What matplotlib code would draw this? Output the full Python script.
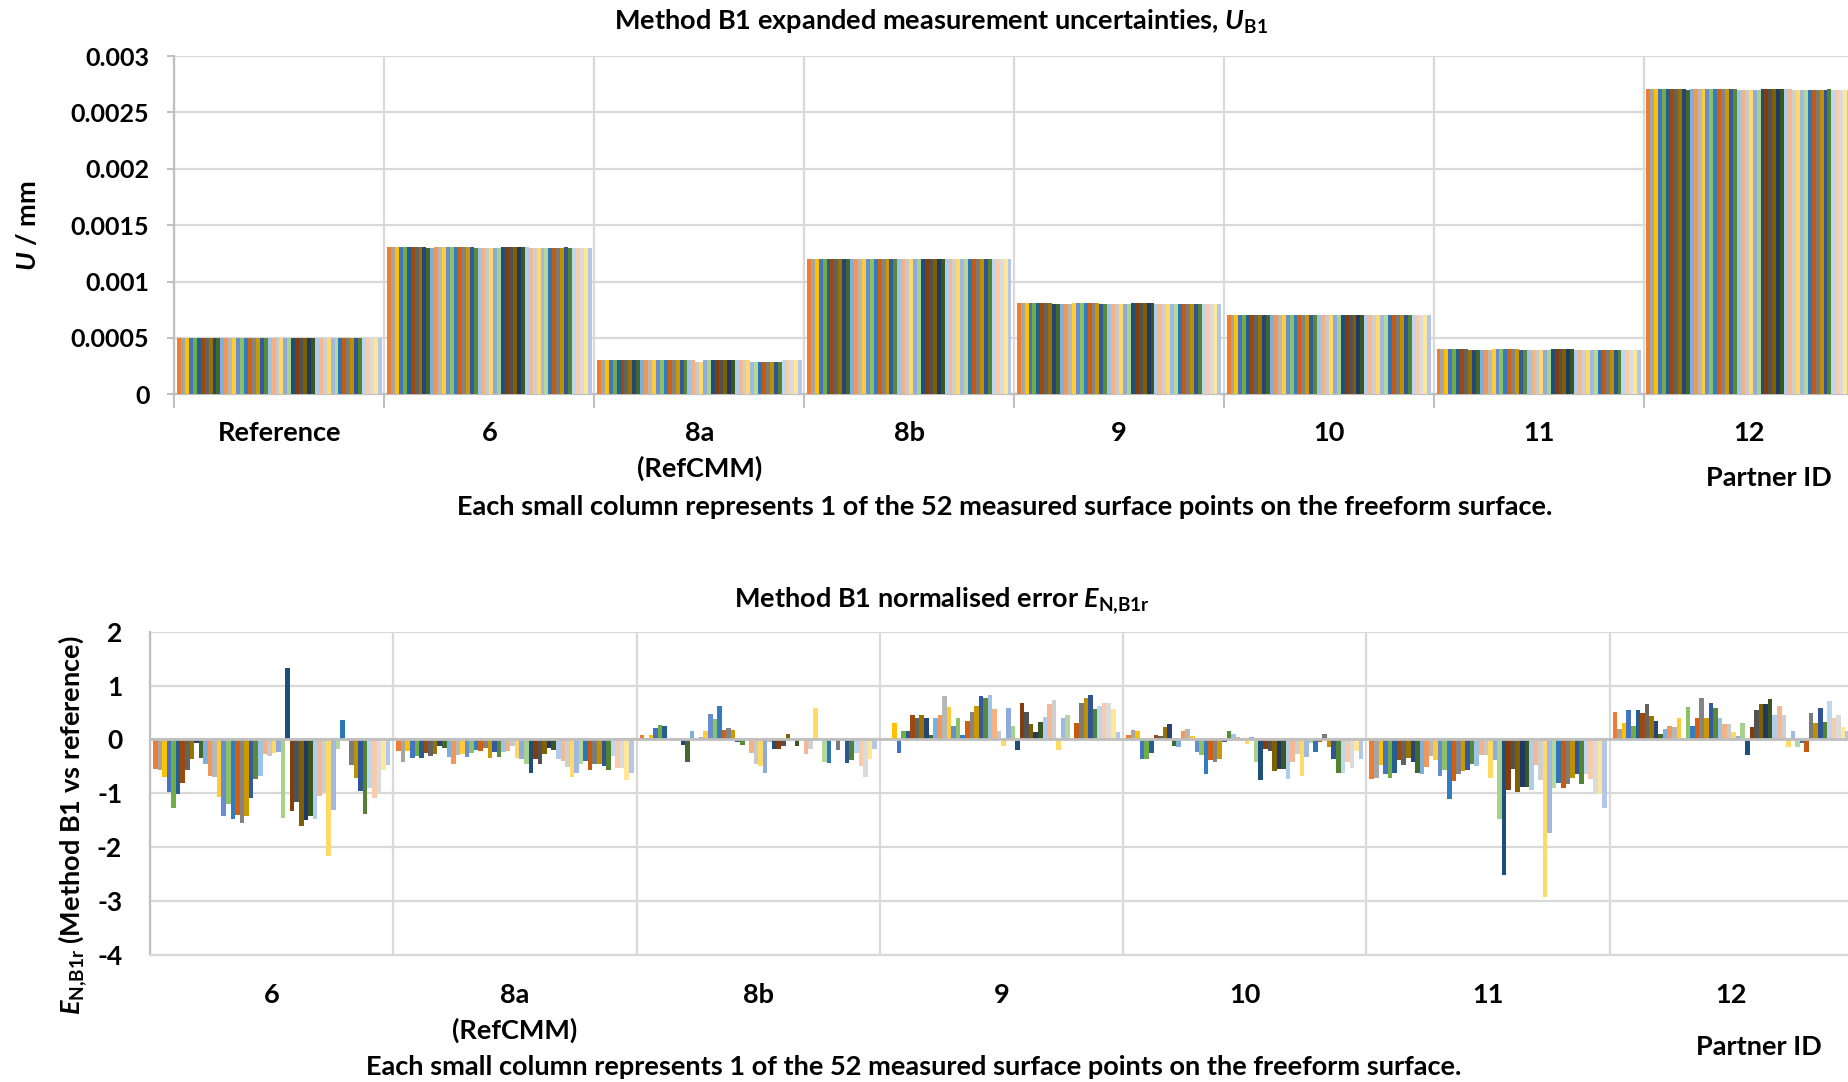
import numpy as np
import matplotlib.pyplot as plt

plt.rcParams['font.family'] = ['Lato', 'DejaVu Sans']
plt.rcParams['font.weight'] = 'bold'
plt.rcParams['mathtext.fontset'] = 'custom'
plt.rcParams['mathtext.rm'] = 'Lato:bold'
plt.rcParams['mathtext.it'] = 'Lato:italic:bold'
plt.rcParams['mathtext.bf'] = 'Lato:bold'

# ---- expanded uncertainties U_B1 (mm), 52 surface points per partner ----
top_labels = ["Reference", "6", "8a\n(RefCMM)", "8b", "9", "10", "11", "12"]

u_ref = [0.0005, 0.0005, 0.0005, 0.0005, 0.0005, 0.0005, 0.0005, 0.0005, 0.0005, 0.0005, 0.0005, 0.0005, 0.0005,
         0.0005, 0.0005, 0.0005, 0.0005, 0.0005, 0.0005, 0.0005, 0.0005, 0.0005, 0.0005, 0.0005, 0.0005, 0.0005,
         0.0005, 0.0005, 0.0005, 0.0005, 0.0005, 0.0005, 0.0005, 0.0005, 0.0005, 0.0005, 0.0005, 0.0005, 0.0005,
         0.0005, 0.0005, 0.0005, 0.0005, 0.0005, 0.0005, 0.0005, 0.0005, 0.0005, 0.0005, 0.0005, 0.0005, 0.0005]
u_6 = [0.00131, 0.00131, 0.00131, 0.00131, 0.00131, 0.00131, 0.00131, 0.00131, 0.00131, 0.00131, 0.0013, 0.0013, 0.00131,
       0.00131, 0.00131, 0.00131, 0.00131, 0.00131, 0.00131, 0.00131, 0.00131, 0.00131, 0.0013, 0.0013, 0.0013, 0.0013,
       0.0013, 0.0013, 0.0013, 0.00131, 0.00131, 0.00131, 0.00131, 0.00131, 0.00131, 0.00131, 0.0013, 0.0013, 0.0013,
       0.0013, 0.0013, 0.0013, 0.0013, 0.0013, 0.0013, 0.00131, 0.0013, 0.0013, 0.0013, 0.0013, 0.0013, 0.0013]
u_8a = [0.0003, 0.0003, 0.0003, 0.0003, 0.0003, 0.0003, 0.0003, 0.0003, 0.0003, 0.0003, 0.0003, 0.0003, 0.0003,
        0.0003, 0.0003, 0.0003, 0.0003, 0.0003, 0.0003, 0.0003, 0.0003, 0.0003, 0.0003, 0.0003, 0.0003, 0.00029,
        0.00029, 0.0003, 0.0003, 0.0003, 0.0003, 0.0003, 0.0003, 0.0003, 0.0003, 0.0003, 0.0003, 0.0003, 0.0003,
        0.00029, 0.00029, 0.00029, 0.00029, 0.00029, 0.00029, 0.00029, 0.00029, 0.0003, 0.0003, 0.0003, 0.0003, 0.0003]
u_8b = [0.0012, 0.0012, 0.0012, 0.0012, 0.0012, 0.0012, 0.0012, 0.0012, 0.0012, 0.0012, 0.0012, 0.0012, 0.0012,
        0.0012, 0.0012, 0.0012, 0.0012, 0.0012, 0.0012, 0.0012, 0.0012, 0.0012, 0.0012, 0.0012, 0.0012, 0.0012,
        0.0012, 0.0012, 0.0012, 0.0012, 0.0012, 0.0012, 0.0012, 0.0012, 0.0012, 0.0012, 0.0012, 0.0012, 0.0012,
        0.0012, 0.0012, 0.0012, 0.0012, 0.0012, 0.0012, 0.0012, 0.0012, 0.0012, 0.0012, 0.0012, 0.0012, 0.0012]
u_9 = [0.00081, 0.00081, 0.00081, 0.00081, 0.00081, 0.00081, 0.00081, 0.00081, 0.00081, 0.0008, 0.0008, 0.0008, 0.0008,
       0.0008, 0.00081, 0.00081, 0.00081, 0.00081, 0.00081, 0.00081, 0.00081, 0.0008, 0.0008, 0.0008, 0.0008, 0.0008,
       0.0008, 0.0008, 0.0008, 0.00081, 0.00081, 0.00081, 0.00081, 0.00081, 0.00081, 0.0008, 0.0008, 0.0008, 0.0008,
       0.0008, 0.0008, 0.0008, 0.0008, 0.0008, 0.0008, 0.0008, 0.0008, 0.0008, 0.0008, 0.0008, 0.0008, 0.0008]
u_10 = [0.0007, 0.0007, 0.0007, 0.0007, 0.0007, 0.0007, 0.0007, 0.0007, 0.0007, 0.0007, 0.0007, 0.0007, 0.0007,
        0.0007, 0.0007, 0.0007, 0.0007, 0.0007, 0.0007, 0.0007, 0.0007, 0.0007, 0.0007, 0.0007, 0.0007, 0.0007,
        0.0007, 0.0007, 0.0007, 0.0007, 0.0007, 0.0007, 0.0007, 0.0007, 0.0007, 0.0007, 0.0007, 0.0007, 0.0007,
        0.0007, 0.0007, 0.0007, 0.0007, 0.0007, 0.0007, 0.0007, 0.0007, 0.0007, 0.0007, 0.0007, 0.0007, 0.0007]
u_11 = [0.0004, 0.0004, 0.0004, 0.0004, 0.0004, 0.0004, 0.0004, 0.0004, 0.00039, 0.00039, 0.00039, 0.00039, 0.00039,
        0.00039, 0.0004, 0.0004, 0.0004, 0.0004, 0.0004, 0.0004, 0.0004, 0.00039, 0.00039, 0.00039, 0.00039, 0.00039,
        0.00039, 0.00039, 0.00039, 0.0004, 0.0004, 0.0004, 0.0004, 0.0004, 0.0004, 0.00039, 0.00039, 0.00039, 0.00039,
        0.00039, 0.00039, 0.00039, 0.00039, 0.00039, 0.00039, 0.00039, 0.00039, 0.00039, 0.00039, 0.00039, 0.00039, 0.00039]
u_12 = [0.00271, 0.00271, 0.00271, 0.00271, 0.00271, 0.00271, 0.00271, 0.00271, 0.00271, 0.00271, 0.0027, 0.00271, 0.00271,
        0.00271, 0.00271, 0.00271, 0.00271, 0.00271, 0.00271, 0.00271, 0.00271, 0.00271, 0.00271, 0.0027, 0.0027, 0.0027,
        0.0027, 0.0027, 0.0027, 0.00271, 0.00271, 0.00271, 0.00271, 0.00271, 0.00271, 0.00271, 0.00271, 0.0027, 0.0027,
        0.0027, 0.0027, 0.0027, 0.0027, 0.0027, 0.0027, 0.0027, 0.00271, 0.0027, 0.0027, 0.0027, 0.0027, 0.0027]

# ---- normalised error E_N,B1r, 52 surface points per partner ----
bottom_labels = ["6", "8a\n(RefCMM)", "8b", "9", "10", "11", "12"]

e_6 = [-0.54, -0.57, -0.69, -0.98, -1.28, -1.02, -0.81, -0.57, -0.36, -0.06, -0.35, -0.45, -0.67,
       -0.69, -1.06, -1.42, -1.19, -1.47, -1.40, -1.55, -1.42, -1.09, -0.74, -0.67, -0.27, -0.30,
       -0.26, -0.23, -1.45, 1.32, -1.33, -1.16, -1.61, -1.50, -1.42, -1.47, -1.04, -0.97, -2.16,
       -1.30, -0.18, 0.36, 0.0, -0.48, -0.71, -0.95, -1.38, -0.90, -1.09, -0.98, -0.56, -0.48]
e_8a = [-0.22, -0.41, -0.22, -0.35, -0.30, -0.35, -0.25, -0.30, -0.27, -0.12, -0.15, -0.32, -0.46,
        -0.28, -0.27, -0.32, -0.25, -0.20, -0.22, -0.15, -0.35, -0.24, -0.32, -0.24, -0.22, -0.12,
        -0.35, -0.37, -0.46, -0.63, -0.37, -0.45, -0.27, -0.15, -0.20, -0.37, -0.40, -0.51, -0.70,
        -0.63, -0.45, -0.40, -0.56, -0.45, -0.45, -0.49, -0.56, -0.30, -0.53, -0.53, -0.75, -0.63]
e_8b = [0.08, 0.02, 0.08, 0.22, 0.27, 0.25, 0.0, 0.0, 0.0, -0.11, -0.41, 0.15, 0.0,
        0.04, 0.15, 0.48, 0.38, 0.62, 0.17, 0.22, 0.17, -0.04, -0.11, 0.0, -0.25, -0.46,
        -0.49, -0.63, -0.04, -0.18, -0.18, -0.13, 0.10, 0.0, -0.13, 0.0, -0.27, -0.18, 0.58,
        0.0, -0.41, -0.44, 0.0, -0.20, 0.0, -0.44, -0.39, -0.25, -0.49, -0.70, -0.37, -0.18]
e_9 = [0.0, 0.0, 0.30, -0.26, 0.15, 0.15, 0.45, 0.40, 0.45, 0.40, 0.09, 0.40, 0.46,
       0.80, 0.61, 0.25, 0.40, 0.09, 0.35, 0.51, 0.63, 0.80, 0.77, 0.82, 0.56, 0.15,
       -0.12, 0.59, 0.25, -0.19, 0.68, 0.51, 0.28, 0.13, 0.32, 0.42, 0.66, 0.73, -0.19,
       0.40, 0.45, 0.0, 0.30, 0.68, 0.77, 0.82, 0.56, 0.63, 0.68, 0.68, 0.56, 0.13]
e_10 = [0.09, 0.18, 0.15, -0.36, -0.36, -0.26, 0.09, 0.06, 0.23, 0.28, -0.12, -0.14, 0.15,
        0.20, 0.06, -0.24, -0.29, -0.64, -0.38, -0.41, -0.36, -0.05, 0.15, 0.11, 0.04, 0.0,
        -0.09, 0.04, -0.41, -0.76, -0.17, -0.22, -0.58, -0.55, -0.55, -0.74, -0.41, -0.27, -0.67,
        -0.33, -0.07, -0.24, -0.05, 0.11, -0.14, -0.36, -0.62, -0.62, -0.41, -0.53, -0.22, -0.36]
e_11 = [-0.74, -0.71, -0.48, -0.64, -0.71, -0.62, -0.38, -0.48, -0.34, -0.41, -0.62, -0.64, -0.52,
        -0.31, -0.38, -0.67, -0.57, -1.11, -0.78, -0.64, -0.59, -0.57, -0.45, -0.50, -0.29, -0.29,
        -0.71, -0.38, -1.48, -2.52, -0.94, -0.55, -0.97, -0.88, -0.88, -0.94, -0.48, -0.76, -2.92,
        -1.73, -0.90, -0.80, -0.90, -0.83, -0.71, -0.64, -0.83, -0.64, -0.73, -0.99, -1.02, -1.28]
e_12 = [0.51, 0.19, 0.30, 0.54, 0.25, 0.54, 0.49, 0.65, 0.44, 0.35, 0.11, 0.19, 0.25,
        0.23, 0.40, 0.0, 0.60, 0.25, 0.40, 0.77, 0.40, 0.68, 0.58, 0.40, 0.28, 0.28,
        0.14, 0.06, 0.30, -0.29, 0.23, 0.54, 0.65, 0.65, 0.75, 0.46, 0.63, 0.46, -0.14,
        0.16, -0.14, -0.07, -0.24, 0.49, 0.30, 0.58, 0.33, 0.72, 0.40, 0.46, 0.23, 0.15]

# one colour per surface point (office-style theme shades)
point_colors = [
    "#ED7D31", "#A5A5A5", "#FFC000", "#4472C4", "#70AD47",
    "#255E91", "#9E480E", "#636363", "#997300", "#264478", "#43682B",
    "#7CAFDD", "#F1975A", "#B7B7B7", "#FFCD33", "#698ED0", "#8CC168",
    "#327DC2", "#D26012", "#848484", "#CC9A00", "#335AA1", "#5A8A39",
    "#9DC3E6", "#F4B183", "#C9C9C9", "#FFD966", "#8FAADC", "#A9D18E",
    "#1F4E79", "#843C0C", "#525252", "#7F6000", "#203864", "#385723",
    "#AFCDEA", "#F5B895", "#CFCFCF", "#FFDA66", "#A0B8E2", "#B4D89C",
    "#2E75B6", "#C55A11", "#7B7B7B", "#BF9000", "#2F5597", "#548235",
    "#BDD7EE", "#F8CBAD", "#DBDBDB", "#FFE699", "#B4C7E7",
]

GRID = "#D9D9D9"
AXIS = "#BFBFBF"
W, H = 1849, 1082
TXT = 19.5    # labels, titles and captions
TICK = 18     # numeric tick labels


def grouped_bars(ax, groups):
    vals = np.array(groups)
    n_grp, n_pt = vals.shape
    x = np.arange(n_grp)
    w = 0.975 / n_pt
    for s in range(n_pt):
        ax.bar(x + (s - (n_pt - 1) / 2) * w, vals[:, s], width=w,
               color=point_colors[s], linewidth=0, zorder=3)
    ax.set_xlim(-0.5, n_grp - 0.5)
    # boundaries between partners as major ticks, names on minor ticks
    ax.set_xticks(np.arange(n_grp + 1) - 0.5)
    ax.set_xticklabels([])
    ax.xaxis.grid(True, color=GRID, lw=1.6, zorder=0)
    ax.yaxis.grid(True, color=GRID, lw=1.6, zorder=0)
    for sp in ['top', 'right']:
        ax.spines[sp].set_visible(False)
    ax.spines['left'].set_color(AXIS)
    ax.spines['left'].set_linewidth(1.6)
    ax.spines['bottom'].set_color(AXIS)
    ax.spines['bottom'].set_linewidth(1.6)
    return x


fig = plt.figure(figsize=(W / 100, H / 100), dpi=100)

# ---------- upper panel ----------
ax1 = fig.add_axes([174.5 / W, 1 - 394.3 / H, (1853.7 - 174.5) / W, (394.3 - 56) / H])
x1 = grouped_bars(ax1, [u_ref, u_6, u_8a, u_8b, u_9, u_10, u_11, u_12])
ax1.set_ylim(0, 0.003)
ax1.set_yticks([0, 0.0005, 0.001, 0.0015, 0.002, 0.0025, 0.003])
ax1.set_yticklabels(["0", "0.0005", "0.001", "0.0015", "0.002", "0.0025", "0.003"], fontsize=TICK)
ax1.tick_params(axis='y', length=5, width=1.4, color=AXIS, pad=13)
ax1.tick_params(axis='x', which='major', length=10, width=1.4, color=AXIS)
ax1.set_xticks(x1, minor=True)
ax1.set_xticklabels(top_labels, minor=True, fontsize=TXT)
ax1.tick_params(axis='x', which='minor', length=0, pad=19)
for t in ax1.get_xticklabels(minor=True):
    t.set_linespacing(1.5)

# ---------- lower panel ----------
ax2 = fig.add_axes([150 / W, 1 - 955 / H, (1853 - 150) / W, (955 - 631.7) / H])
x2 = grouped_bars(ax2, [e_6, e_8a, e_8b, e_9, e_10, e_11, e_12])
ax2.set_ylim(-4, 2)
ax2.set_yticks([-4, -3, -2, -1, 0, 1, 2])
ax2.set_yticklabels(["-4", "-3", "-2", "-1", "0", "1", "2"], fontsize=TICK + 1)
ax2.tick_params(axis='y', length=0, pad=20)
ax2.tick_params(axis='x', which='major', length=0)
ax2.spines['bottom'].set_color(GRID)
ax2.axhline(0, color=AXIS, lw=2, zorder=4)
ax2.set_xticks(x2, minor=True)
ax2.set_xticklabels(bottom_labels, minor=True, fontsize=TXT)
ax2.tick_params(axis='x', which='minor', length=0, pad=20)
for t in ax2.get_xticklabels(minor=True):
    t.set_linespacing(1.5)

# ---------- titles and captions ----------
caption = "Each small column represents 1 of the 52 measured surface points on the freeform surface."


def ftext(px, py, s, **kw):
    kw.setdefault('ha', 'center')
    kw.setdefault('va', 'center')
    fig.text(px / W, 1 - py / H, s, **kw)


ftext(941, 22, r"Method B1 expanded measurement uncertainties, $\mathit{U}_{\mathrm{B1}}$", fontsize=TXT)
ftext(1005, 507, caption, fontsize=TXT)
ftext(1769, 478, "Partner ID", fontsize=TXT)
ftext(28, 226, r"$\mathit{U}$ / mm", fontsize=TXT, rotation=90)

ftext(942, 601, r"Method B1 normalised error $\mathit{E}_{\mathrm{N{,}B1r}}$", fontsize=TXT)
ftext(914, 1067, caption, fontsize=TXT)
ftext(1759, 1047, "Partner ID", fontsize=TXT)
ftext(73, 825, r"$\mathit{E}_{\mathrm{N{,}B1r}}$ (Method B1 vs reference)", fontsize=TXT, rotation=90)

fig.savefig("out.png", dpi=100)
